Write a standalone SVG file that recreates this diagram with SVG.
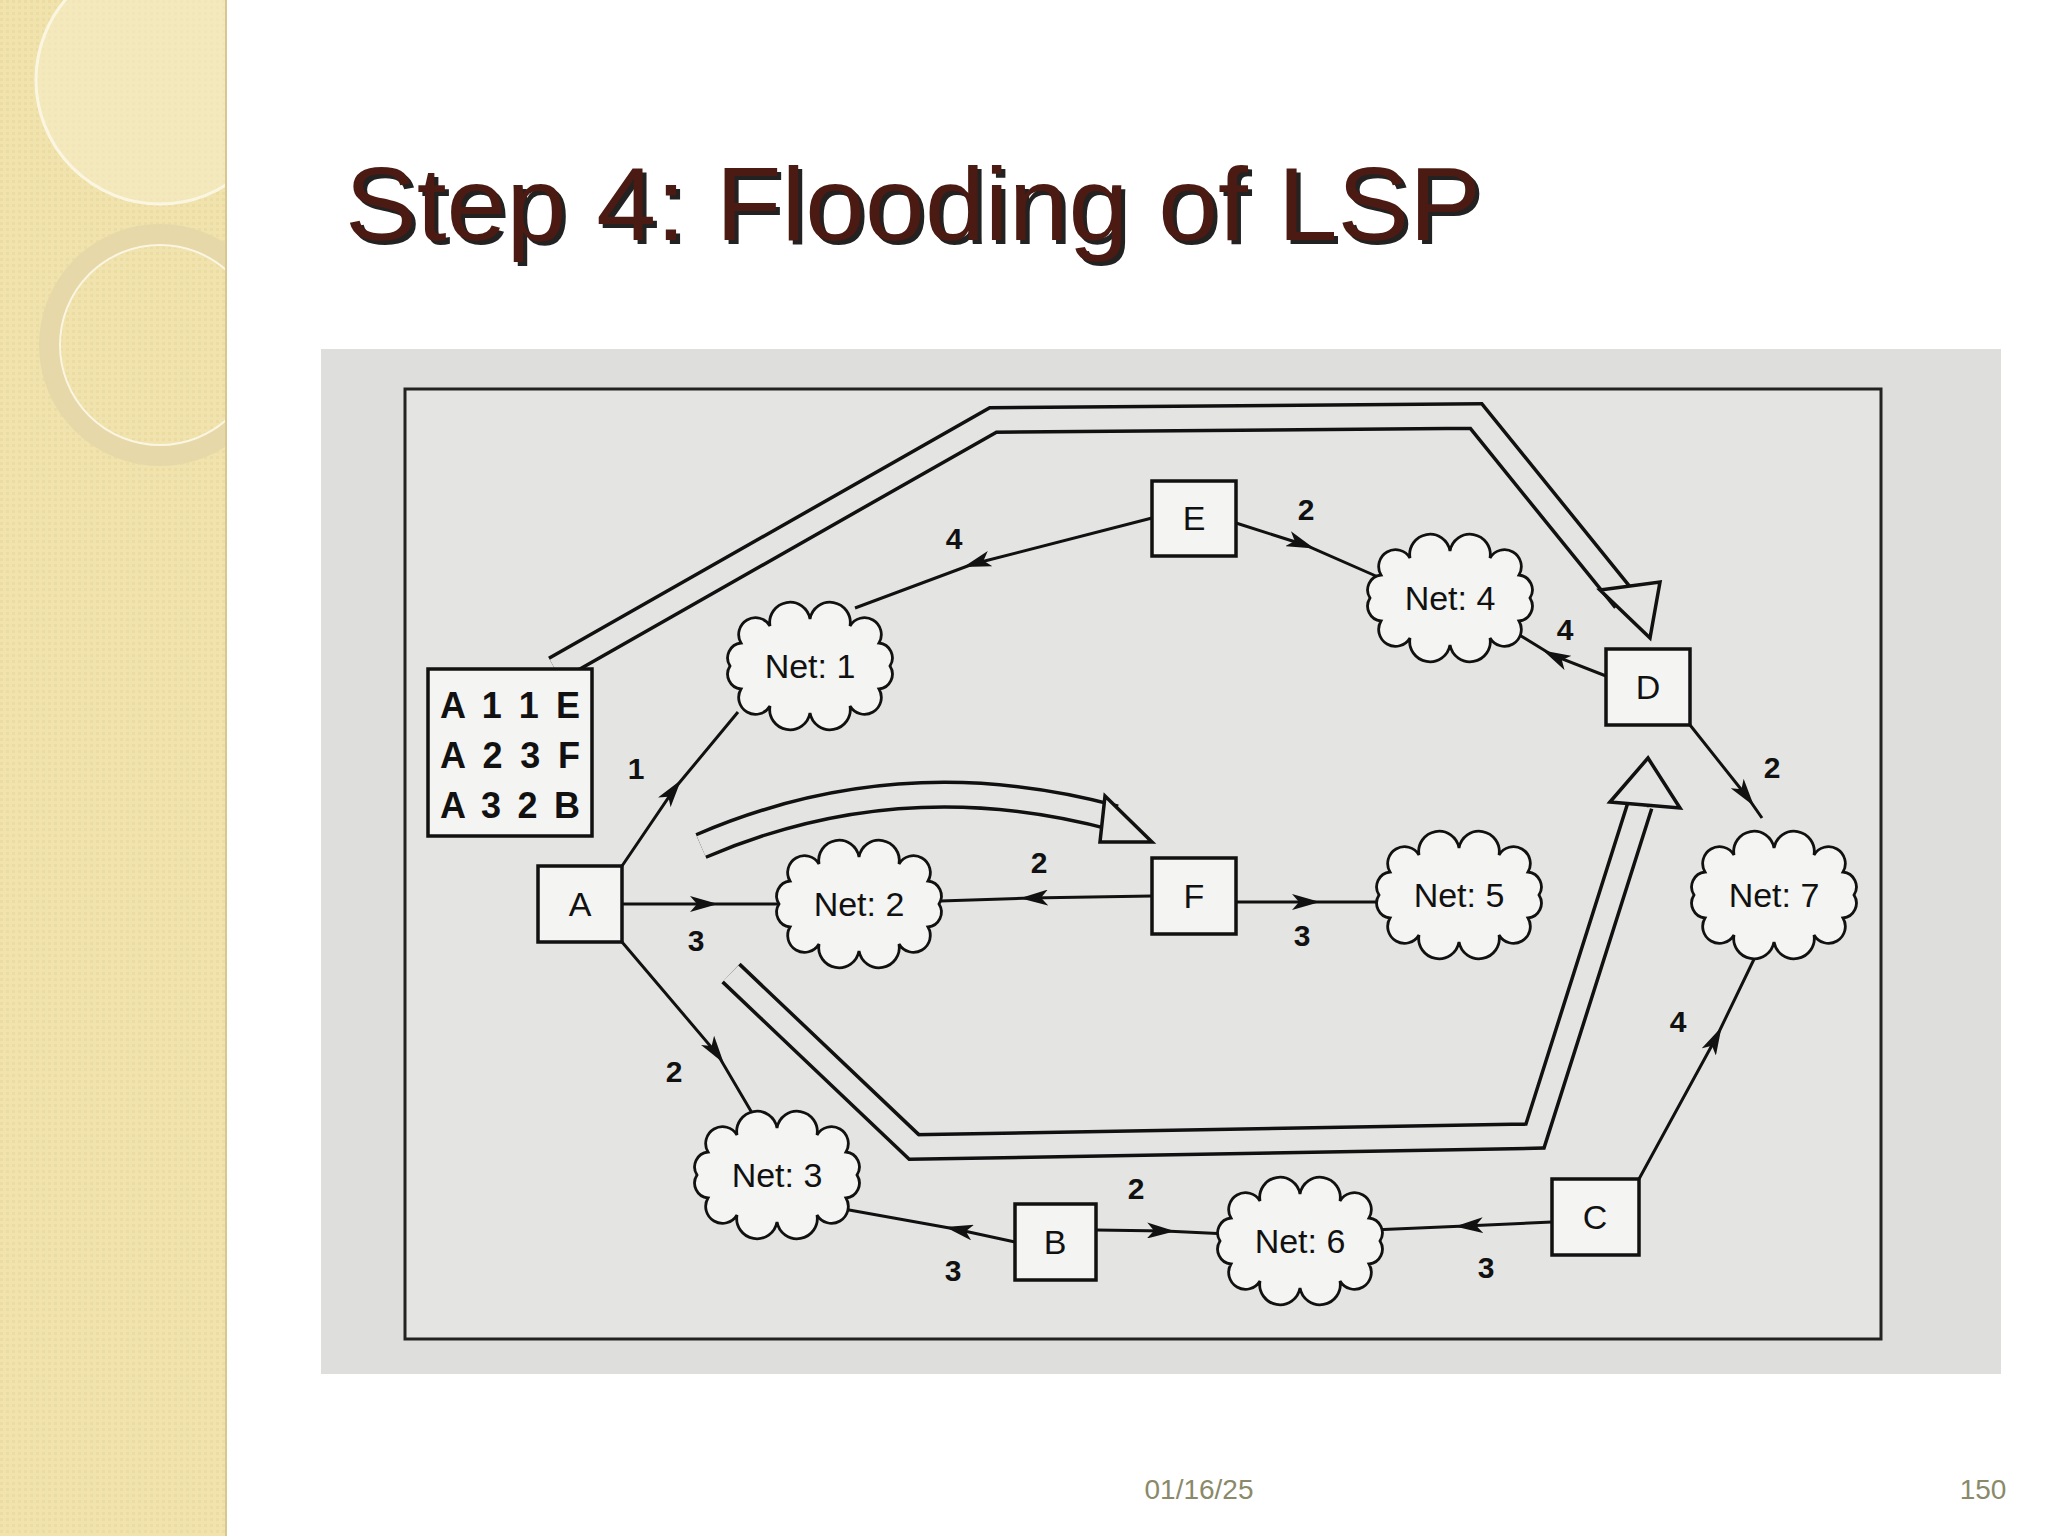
<svg xmlns="http://www.w3.org/2000/svg" width="2048" height="1536" viewBox="0 0 2048 1536">
<style>
.box{fill:#f4f4f2;stroke:#111;stroke-width:3.5}
.lbl{font-family:"Liberation Sans",Arial,sans-serif;font-size:34px;fill:#111;text-anchor:middle;dominant-baseline:central}
.num{font-family:"Liberation Sans",Arial,sans-serif;font-size:30px;font-weight:bold;fill:#111;text-anchor:middle;dominant-baseline:central}
.tbl{font-family:"Liberation Sans",Arial,sans-serif;font-size:36px;fill:#111}
.edge{fill:none;stroke:#111;stroke-width:3;marker-mid:url(#ah)}
.hollowO{fill:none;stroke:#111;stroke-width:28;stroke-linejoin:miter}
.hollowI{fill:none;stroke:#e4e4e2;stroke-width:21;stroke-linejoin:miter}
.head{fill:#e4e4e2;stroke:#111;stroke-width:3.5;stroke-linejoin:miter}
.cloud{fill:#f4f4f2;stroke:#111;stroke-width:2.8}
</style>
<defs>
<marker id="ah" viewBox="0 0 28 16" refX="18" refY="8" markerWidth="28" markerHeight="16" markerUnits="userSpaceOnUse" orient="auto"><path d="M0,0 L28,8 L0,16 L7,8 Z" fill="#111"/></marker>
<path id="cl" d="M80,0 A15,15 0 0 1 69,23 A15,15 0 0 1 40,40 A15,15 0 0 1 0,47 A15,15 0 0 1 -40,40 A15,15 0 0 1 -69,23 A15,15 0 0 1 -80,0 A15,15 0 0 1 -69,-23 A15,15 0 0 1 -40,-40 A15,15 0 0 1 0,-47 A15,15 0 0 1 40,-40 A15,15 0 0 1 69,-23 A15,15 0 0 1 80,0 Z"/>
<pattern id="pt" width="6" height="6" patternUnits="userSpaceOnUse"><rect width="6" height="6" fill="#f1e3ad"/><rect width="3" height="3" fill="#ecdca2"/></pattern>
<clipPath id="sb"><rect x="0" y="0" width="226" height="1536"/></clipPath>
</defs>
<rect width="2048" height="1536" fill="#ffffff"/>
<g id="sidebar" clip-path="url(#sb)">
<rect x="0" y="0" width="226" height="1536" fill="url(#pt)"/>
<circle cx="160" cy="80" r="124" fill="#f6ecc6" fill-opacity="0.6" stroke="#fbf6e2" stroke-width="3"/>
<circle cx="160" cy="345" r="110" fill="none" stroke="#e6d8a8" stroke-width="22"/>
<circle cx="160" cy="345" r="100" fill="none" stroke="#fbf6e2" stroke-width="2"/>
</g>
<line x1="226" y1="0" x2="226" y2="1536" stroke="#d8c890" stroke-width="2"/>
<g id="title">
<text x="349" y="244" font-family="'Liberation Sans',Arial,sans-serif" font-size="104" fill="#222" textLength="1136" lengthAdjust="spacingAndGlyphs">Step 4: Flooding of LSP</text>
<text x="345" y="240" font-family="'Liberation Sans',Arial,sans-serif" font-size="104" fill="#4b1a12" textLength="1136" lengthAdjust="spacingAndGlyphs">Step 4: Flooding of LSP</text>
</g>
<g id="photo">
<rect x="321" y="349" width="1680" height="1025" fill="#dededc"/>
<rect x="405" y="389" width="1476" height="950" fill="#e4e4e2" stroke="#222" stroke-width="3"/>
</g>
<g id="hollow-arrows">
<path class="hollowO" d="M555,669 L993,420 L1476,416 L1625,600"/>
<path class="hollowI" d="M555,669 L993,420 L1476,416 L1625,600"/>
<polygon class="head" points="1600,590 1660,582 1650,638"/>
<path class="hollowO" d="M701,846 Q900,760 1115,818"/>
<path class="hollowI" d="M701,846 Q900,760 1115,818"/>
<polygon class="head" points="1105,796 1152,842 1100,842"/>
<path class="hollowO" d="M731,973 L914,1147 L1535,1136 L1640,805"/>
<path class="hollowI" d="M731,973 L914,1147 L1535,1136 L1640,805"/>
<polygon class="head" points="1610,802 1648,758 1680,808"/>
</g>
<g id="connectors">
<polyline class="edge" points="622,866 675,788 738,712"/>
<polyline class="edge" points="1152,518 973,564 855,608"/>
<polyline class="edge" points="1236,523 1305,545 1385,580"/>
<polyline class="edge" points="1606,676 1552,655 1508,628"/>
<polyline class="edge" points="1690,725 1748,798 1762,818"/>
<polyline class="edge" points="622,904 708,904 781,904"/>
<polyline class="edge" points="1152,896 1030,898 940,901"/>
<polyline class="edge" points="1236,902 1310,902 1381,902"/>
<polyline class="edge" points="622,942 718,1055 755,1118"/>
<polyline class="edge" points="1015,1242 955,1229 838,1208"/>
<polyline class="edge" points="1096,1230 1165,1231 1228,1234"/>
<polyline class="edge" points="1552,1222 1465,1226 1372,1230"/>
<polyline class="edge" points="1639,1179 1717,1036 1757,953"/>
</g>
<g id="edge-labels">
<text class="num" x="636" y="768">1</text>
<text class="num" x="954" y="538">4</text>
<text class="num" x="1306" y="509">2</text>
<text class="num" x="1565" y="629">4</text>
<text class="num" x="1772" y="767">2</text>
<text class="num" x="696" y="940">3</text>
<text class="num" x="1039" y="862">2</text>
<text class="num" x="1302" y="935">3</text>
<text class="num" x="674" y="1071">2</text>
<text class="num" x="953" y="1270">3</text>
<text class="num" x="1136" y="1188">2</text>
<text class="num" x="1486" y="1267">3</text>
<text class="num" x="1678" y="1021">4</text>
</g>
<g id="table"><rect class="box" x="428" y="669" width="164" height="167"/>
<text class="tbl" x="440" y="718" textLength="140" font-weight="bold">A 1 1 E</text>
<text class="tbl" x="440" y="768" textLength="140" font-weight="bold">A 2 3 F</text>
<text class="tbl" x="440" y="818" textLength="140" font-weight="bold">A 3 2 B</text></g>
<g id="A"><rect class="box" x="538" y="866" width="84" height="76"/><text class="lbl" x="580" y="904">A</text></g>
<g id="E"><rect class="box" x="1152" y="481" width="84" height="75"/><text class="lbl" x="1194" y="518">E</text></g>
<g id="D"><rect class="box" x="1606" y="649" width="84" height="76"/><text class="lbl" x="1648" y="687">D</text></g>
<g id="F"><rect class="box" x="1152" y="858" width="84" height="76"/><text class="lbl" x="1194" y="896">F</text></g>
<g id="B"><rect class="box" x="1015" y="1204" width="81" height="76"/><text class="lbl" x="1055" y="1242">B</text></g>
<g id="C"><rect class="box" x="1552" y="1179" width="87" height="76"/><text class="lbl" x="1595" y="1217">C</text></g>
<g id="Net1"><use href="#cl" class="cloud" x="810" y="666"/><text class="lbl" x="810" y="666">Net: 1</text></g>
<g id="Net4"><use href="#cl" class="cloud" x="1450" y="598"/><text class="lbl" x="1450" y="598">Net: 4</text></g>
<g id="Net2"><use href="#cl" class="cloud" x="859" y="904"/><text class="lbl" x="859" y="904">Net: 2</text></g>
<g id="Net5"><use href="#cl" class="cloud" x="1459" y="895"/><text class="lbl" x="1459" y="895">Net: 5</text></g>
<g id="Net7"><use href="#cl" class="cloud" x="1774" y="895"/><text class="lbl" x="1774" y="895">Net: 7</text></g>
<g id="Net3"><use href="#cl" class="cloud" x="777" y="1175"/><text class="lbl" x="777" y="1175">Net: 3</text></g>
<g id="Net6"><use href="#cl" class="cloud" x="1300" y="1241"/><text class="lbl" x="1300" y="1241">Net: 6</text></g>
<g id="footer">
<text x="1199" y="1499" font-family="'Liberation Sans',Arial,sans-serif" font-size="28" fill="#8a8a6a" text-anchor="middle">01/16/25</text>
<text x="1983" y="1499" font-family="'Liberation Sans',Arial,sans-serif" font-size="28" fill="#8a8a6a" text-anchor="middle">150</text>
</g>
</svg>
